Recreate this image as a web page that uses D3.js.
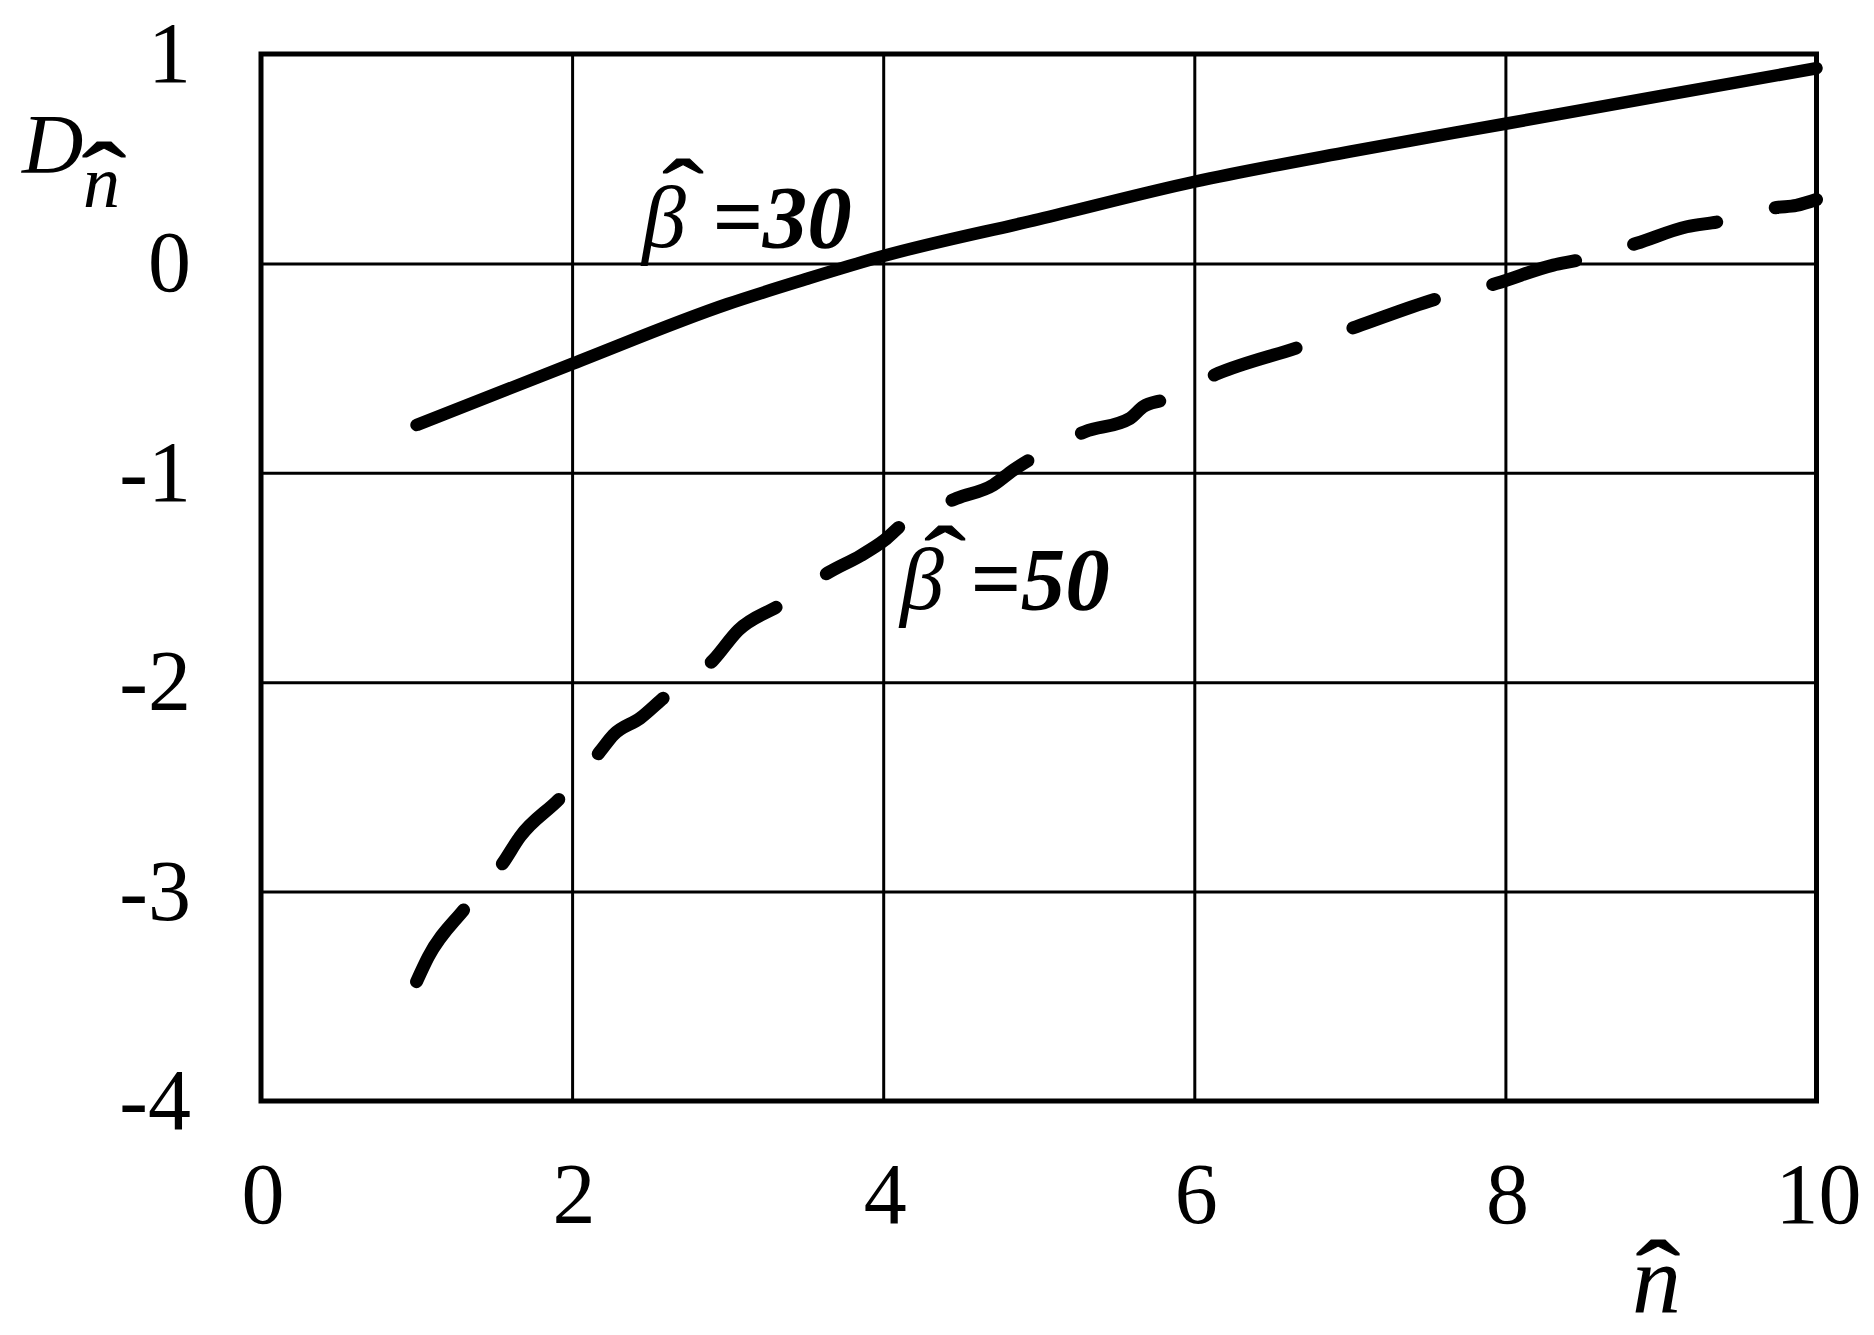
<!DOCTYPE html>
<html>
<head>
<meta charset="utf-8">
<script src="https://cdn.jsdelivr.net/npm/d3@7"></script>
<style>
  html, body { margin: 0; padding: 0; background: #fff; }
  svg { display: block; }
  text { font-family: "Liberation Serif", "Times New Roman", serif; fill: #000; }
</style>
</head>
<body>
<svg id="chart" width="1874" height="1335"></svg>
<script>
// ---- data ----
const xTicks = [0, 2, 4, 6, 8, 10];
const yTicks = [1, 0, -1, -2, -3, -4];
const xTickLabels = ["0", "2", "4", "6", "8", "10"];
const yTickLabels = ["1", "0", "-1", "-2", "-3", "-4"];

// beta = 30 (solid)
const solidX = [1, 2, 3, 3.5, 4, 5, 6, 7, 8, 9, 10];
const solidY = [-0.772, -0.480, -0.194, -0.076, 0.035, 0.211, 0.390, 0.534, 0.667, 0.800, 0.932];

// beta = 50 (dashed)
const dashX = [1.0, 1.076, 1.311, 1.554, 1.665, 1.922, 2.179, 2.265, 2.437, 2.597, 2.908, 3.069, 3.337, 3.658, 3.854, 4.008, 4.119, 4.473, 4.708, 4.836, 4.955, 5.297, 5.587, 5.672, 5.801, 6.154, 6.680, 7.044, 7.569, 7.944, 8.308, 8.469, 8.844, 9.166, 9.369, 9.744, 9.870, 10.0];
const dashY = [-3.430, -3.311, -3.080, -2.865, -2.738, -2.554, -2.332, -2.252, -2.172, -2.069, -1.894, -1.751, -1.631, -1.472, -1.396, -1.322, -1.249, -1.122, -1.058, -0.987, -0.931, -0.804, -0.740, -0.684, -0.652, -0.525, -0.398, -0.302, -0.167, -0.095, -0.008, 0.016, 0.096, 0.175, 0.199, 0.267, 0.277, 0.305];

const seriesNames = ["30", "50"];

// ---- layout ----
const svg = d3.select("#chart");
const pL = 261, pR = 1816.5, pT = 54, pB = 1101;

const x = d3.scaleLinear().domain([0, 10]).range([pL, pR]);
const y = d3.scaleLinear().domain([-4, 1]).range([pB, pT]);

svg.append("rect").attr("width", 1874).attr("height", 1335).attr("fill", "#fff");

// grid
const xAxisGrid = d3.axisBottom(x).tickValues(xTicks.filter(v => v > 0 && v < 10))
  .tickSize(-(pB - pT)).tickFormat("");
const gx = svg.append("g").attr("transform", `translate(0,${pB})`).call(xAxisGrid);
gx.select(".domain").remove();
gx.selectAll("line").attr("stroke", "#000").attr("stroke-width", 3);

const yAxisGrid = d3.axisLeft(y).tickValues(yTicks.filter(v => v > -4 && v < 1))
  .tickSize(-(pR - pL)).tickFormat("");
const gy = svg.append("g").attr("transform", `translate(${pL},0)`).call(yAxisGrid);
gy.select(".domain").remove();
gy.selectAll("line").attr("stroke", "#000").attr("stroke-width", 3);

// frame
svg.append("rect")
  .attr("x", pL).attr("y", pT)
  .attr("width", pR - pL).attr("height", pB - pT)
  .attr("fill", "none").attr("stroke", "#000").attr("stroke-width", 5);

// tick labels
const fs = 86;
svg.append("g").selectAll("text").data(xTicks).join("text")
  .attr("x", d => x(d) + 2)
  .attr("y", 1223)
  .attr("text-anchor", "middle")
  .attr("font-size", fs)
  .text((d, i) => xTickLabels[i]);

svg.append("g").selectAll("text").data(yTicks).join("text")
  .attr("x", 191)
  .attr("y", d => y(d) + 28)
  .attr("text-anchor", "end")
  .attr("font-size", fs)
  .text((d, i) => yTickLabels[i]);

// lines
const line = d3.line().x(d => x(d[0])).y(d => y(d[1])).curve(d3.curveMonotoneX);

svg.append("path")
  .datum(solidX.map((v, i) => [v, solidY[i]]))
  .attr("d", line)
  .attr("fill", "none").attr("stroke", "#000")
  .attr("stroke-width", 12.5)
  .attr("stroke-linecap", "round").attr("stroke-linejoin", "round");

svg.append("path")
  .datum(dashX.map((v, i) => [v, dashY[i]]))
  .attr("d", line)
  .attr("fill", "none").attr("stroke", "#000")
  .attr("stroke-width", 13)
  .attr("stroke-dasharray", "86.3 60.3")
  .attr("stroke-linecap", "round").attr("stroke-linejoin", "round");

// hat (circumflex) drawn as scaled text glyph
function hat(cx, by, sx, sy) {
  svg.append("text")
    .attr("transform", `translate(${cx},${by}) scale(${sx},${sy})`)
    .attr("font-size", 110).attr("text-anchor", "middle")
    .attr("stroke", "#000").attr("stroke-width", 1.2)
    .text("ˆ");
}

// series labels: beta-hat = value
function betaLabel(px, py, value, hatCx, hatBy) {
  svg.append("text").attr("x", px).attr("y", py)
    .attr("font-size", 88).attr("font-style", "italic")
    .text("β");
  hat(hatCx, hatBy, 1.12, 0.85);
  svg.append("text").attr("x", px + 70).attr("y", py)
    .attr("font-size", 89).attr("font-style", "italic").attr("font-weight", "bold")
    .text("=" + value);
}
betaLabel(642, 247, seriesNames[0], 683, 224);
betaLabel(900, 609, seriesNames[1], 945, 591);

// axis titles
// x: n-hat
svg.append("text").attr("x", 1632).attr("y", 1312)
  .attr("font-size", 98).attr("font-style", "italic").text("n");
hat(1658, 1310, 1.2, 0.9);

// y: D with subscript n-hat
svg.append("text").attr("x", 22).attr("y", 173)
  .attr("font-size", 85).attr("font-style", "italic").text("D");
svg.append("text").attr("x", 83).attr("y", 207)
  .attr("font-size", 74).attr("font-style", "italic").text("n");
hat(104, 212, 1.2, 0.9);
</script>
</body>
</html>
